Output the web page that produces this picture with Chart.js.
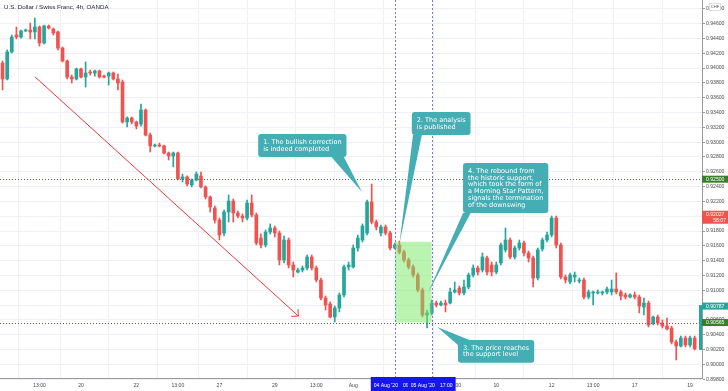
<!DOCTYPE html>
<html><head><meta charset="utf-8">
<script src="https://cdn.jsdelivr.net/npm/chart.js@4"></script>
<style>html,body{margin:0;padding:0;background:#fff;overflow:hidden}canvas{display:block}</style>
</head><body>
<canvas id="c" width="728" height="391"></canvas>
<script>
// ---- data (USD/CHF 4h candles) ----
const opens = [
0.94068,0.93853,0.94217,0.94446,0.94419,0.94500,0.94514,0.94487,0.94554,0.94338,
0.94567,0.94527,0.94487,0.94270,0.94095,0.93879,0.93853,0.93988,0.93879,0.93947,
0.93933,0.93960,0.93892,0.93892,0.93933,0.93853,0.93812,0.93272,0.93326,0.93272,
0.93245,0.93434,0.93096,0.92948,0.92961,0.92948,0.92853,0.92813,0.92853,0.92503,
0.92530,0.92422,0.92489,0.92544,0.92395,0.92260,0.92111,0.91949,0.91773,0.92057,
0.92205,0.92043,0.92003,0.91976,0.92178,0.92017,0.91706,0.91612,0.91787,0.91841,
0.91773,0.91409,0.91679,0.91342,0.91247,0.91274,0.91301,0.91450,0.91301,0.91139,
0.90896,0.90816,0.90640,0.90761,0.90937,0.91315,0.91315,0.91571,0.91679,0.91773,
0.92192,0.91922,0.91773,0.91855,0.91773,0.91571,0.91612,0.91517,0.91409,0.91315,
0.91207,0.91004,0.90667,0.90694,0.90829,0.90802,0.90829,0.90829,0.90978,0.91031,
0.90964,0.91045,0.91207,0.91301,0.91274,0.91436,0.91342,0.91247,0.91369,0.91544,
0.91679,0.91450,0.91571,0.91639,0.91504,0.91436,0.91166,0.91558,0.91679,0.91747,
0.91976,0.91612,0.91180,0.91113,0.91180,0.91125,0.91139,0.90910,0.90964,0.90964,
0.90964,0.90978,0.90978,0.91018,0.90978,0.90937,0.90910,0.90937,0.90910,0.90775,
0.90829,0.90559,0.90640,0.90559,0.90518,0.90491,0.90303,0.90248,0.90356,0.90262,
0.90356];
const highs = [
0.94095,0.94244,0.94446,0.94554,0.94514,0.94527,0.94608,0.94675,0.94567,0.94581,
0.94581,0.94540,0.94500,0.94284,0.94109,0.93906,0.94001,0.94001,0.94082,0.93974,
0.93974,0.93974,0.93906,0.93947,0.93947,0.93920,0.93839,0.93340,0.93340,0.93285,
0.93515,0.93448,0.93123,0.92975,0.92988,0.92961,0.92867,0.92867,0.92867,0.92570,
0.92544,0.92503,0.92597,0.92597,0.92409,0.92274,0.92138,0.91976,0.92084,0.92287,
0.92233,0.92070,0.92031,0.92219,0.92287,0.92043,0.91761,0.91814,0.91896,0.91868,
0.91800,0.91733,0.91706,0.91382,0.91301,0.91328,0.91477,0.91477,0.91328,0.91166,
0.90923,0.90843,0.90788,0.90964,0.91342,0.91382,0.91612,0.91747,0.91896,0.92219,
0.92435,0.91949,0.91882,0.91882,0.91800,0.91639,0.91665,0.91544,0.91436,0.91342,
0.91234,0.91031,0.90734,0.90869,0.90855,0.90855,0.90869,0.91031,0.91113,0.91058,
0.91139,0.91234,0.91342,0.91328,0.91504,0.91463,0.91382,0.91382,0.91639,0.91841,
0.91706,0.91598,0.91679,0.91665,0.91530,0.91463,0.91571,0.91706,0.91787,0.92003,
0.92003,0.91639,0.91207,0.91234,0.91247,0.91166,0.91166,0.91004,0.90990,0.91004,
0.90990,0.91045,0.91139,0.91234,0.91004,0.90964,0.90951,0.90978,0.90937,0.90896,
0.90855,0.90653,0.90667,0.90599,0.90626,0.90518,0.90329,0.90383,0.90383,0.90383,
0.90383];
const lows = [
0.93704,0.93839,0.94203,0.94393,0.94405,0.94493,0.94393,0.94393,0.94297,0.94325,
0.94527,0.94446,0.94244,0.94082,0.93853,0.93798,0.93839,0.93866,0.93744,0.93906,
0.93892,0.93866,0.93866,0.93771,0.93839,0.93704,0.93258,0.93205,0.93245,0.93178,
0.93217,0.93083,0.92867,0.92935,0.92935,0.92840,0.92759,0.92665,0.92489,0.92462,
0.92409,0.92395,0.92476,0.92382,0.92233,0.92057,0.91908,0.91679,0.91733,0.91922,
0.91922,0.91976,0.91922,0.91949,0.91990,0.91612,0.91571,0.91585,0.91761,0.91720,
0.91342,0.91369,0.91301,0.91180,0.91234,0.91247,0.91274,0.91274,0.91113,0.90869,
0.90734,0.90626,0.90573,0.90708,0.90910,0.91274,0.91301,0.91530,0.91652,0.91747,
0.91896,0.91814,0.91733,0.91747,0.91544,0.91558,0.91491,0.91382,0.91288,0.91180,
0.90978,0.90640,0.90491,0.90667,0.90775,0.90788,0.90708,0.90816,0.90964,0.90937,
0.90937,0.91018,0.91180,0.91207,0.91247,0.91207,0.91193,0.91221,0.91342,0.91517,
0.91423,0.91423,0.91544,0.91463,0.91382,0.91045,0.91139,0.91530,0.91652,0.91720,
0.91571,0.91153,0.91099,0.91086,0.91113,0.91099,0.90883,0.90883,0.90802,0.90951,
0.90937,0.90951,0.90937,0.90951,0.90869,0.90883,0.90896,0.90883,0.90694,0.90667,
0.90505,0.90532,0.90532,0.90491,0.90464,0.90276,0.90060,0.90235,0.90235,0.90235,
0.90195];
const closes = [
0.93853,0.94217,0.94419,0.94419,0.94500,0.94514,0.94487,0.94554,0.94338,0.94567,
0.94540,0.94473,0.94270,0.94095,0.93879,0.93853,0.93988,0.93879,0.93933,0.93933,
0.93960,0.93879,0.93879,0.93933,0.93853,0.93798,0.93272,0.93326,0.93272,0.93217,
0.93434,0.93096,0.92948,0.92961,0.92948,0.92853,0.92813,0.92853,0.92503,0.92530,
0.92435,0.92489,0.92570,0.92395,0.92260,0.92125,0.91949,0.91747,0.92057,0.92205,
0.92043,0.92003,0.91976,0.92178,0.92017,0.91639,0.91612,0.91787,0.91841,0.91773,
0.91409,0.91679,0.91342,0.91274,0.91274,0.91301,0.91450,0.91301,0.91139,0.90896,
0.90802,0.90640,0.90761,0.90937,0.91315,0.91342,0.91571,0.91706,0.91868,0.92192,
0.91922,0.91855,0.91855,0.91773,0.91571,0.91612,0.91517,0.91409,0.91315,0.91207,
0.91004,0.90667,0.90694,0.90829,0.90802,0.90829,0.90802,0.90978,0.91004,0.90964,
0.91045,0.91207,0.91301,0.91247,0.91450,0.91247,0.91247,0.91342,0.91612,0.91679,
0.91450,0.91571,0.91639,0.91504,0.91436,0.91166,0.91544,0.91679,0.91747,0.91976,
0.91612,0.91180,0.91139,0.91207,0.91207,0.91139,0.90910,0.90978,0.90978,0.90978,
0.90978,0.91018,0.91018,0.90978,0.90923,0.90910,0.90937,0.90910,0.90788,0.90829,
0.90532,0.90640,0.90559,0.90518,0.90478,0.90303,0.90248,0.90356,0.90262,0.90356,
0.90209];

// time-axis tick labels (candle index -> text)
const tickIdx  = [8, 17, 29, 38, 47, 59, 68, 76, 89, 98, 107, 119, 128, 137, 149];
const tickText = ['13:00','20','22','13:00','27','29','13:00','Aug','5','13:00','10','12','13:00','17','19'];
// price-axis ticks
const yTicks = [0.898,0.900,0.902,0.904,0.906,0.908,0.910,0.912,0.914,0.916,0.918,0.920,0.922,
                0.924,0.926,0.928,0.930,0.932,0.934,0.936,0.938,0.940,0.942,0.944,0.946,0.948];
// horizontal support/resistance levels
const levels = [0.92500, 0.90565];
// highlighted zone (candle index range and price range)
const zoneIdx = [85, 93];
const zonePrice = [0.90565, 0.91656];
// crosshair date labels
const markIdx = [85, 93];
const markDate = ["04 Aug '20", "05 Aug '20"];
const markTime = ["09:00", "17:00"];
// price labels on the axis
const lastPrice = 0.92027, countdown = '58:07';
const rangeTop = 0.90787;
// drawn trend arrow (index, price)
const arrowFrom = [7.0, 0.93883], arrowTo = [64.1, 0.90653];
// callouts
const notes = [
 {lines:['1. The bullish correction','is indeed completed'], at:[55.4, 0.93110], tip:[77.9, 0.92327], base:[[0.83,1],[0.97,1]]},
 {lines:['2. The analysis','is published'], at:[88.7, 0.93407], tip:[86.0, 0.91625], base:[[0.02,1],[0.17,1]]},
 {lines:['3. The price reaches','the support level'], at:[98.7, 0.90330], tip:[94.2, 0.90505], base:[[0,0.22],[0.15,0]]},
 {lines:['4. The rebound from','the historic support,','which took the form of','a Morning Star Pattern,','signals the termination','of the downswing'], at:[99.8, 0.92718], tip:[92.2, 0.90964], base:[[0,1],[0.09,1]]}
];
const title = 'U.S. Dollar / Swiss Franc, 4h, OANDA';

// ---- chart ----
const GREEN = '#26a69a', RED = '#ef5350', TEAL = '#45adb4';
const idx = opens.map((_, i) => i);
const col = idx.map(i => closes[i] >= opens[i] ? GREEN : RED);
const tickMap = {}; tickIdx.forEach((v, k) => tickMap[v] = tickText[k]);
const FONT = '"Liberation Sans", Arial, sans-serif';
const NOTEFONT = '"DejaVu Sans", Verdana, sans-serif';

function rr(ctx, x, y, w, h, r) {
  ctx.beginPath();
  ctx.moveTo(x + r, y); ctx.lineTo(x + w - r, y); ctx.quadraticCurveTo(x + w, y, x + w, y + r);
  ctx.lineTo(x + w, y + h - r); ctx.quadraticCurveTo(x + w, y + h, x + w - r, y + h);
  ctx.lineTo(x + r, y + h); ctx.quadraticCurveTo(x, y + h, x, y + h - r);
  ctx.lineTo(x, y + r); ctx.quadraticCurveTo(x, y, x + r, y); ctx.closePath();
}

const overlay = {
  id: 'overlay',
  afterDatasetsDraw(chart) {
    const {ctx, scales: {x, y}} = chart;
    ctx.save();
    const zx1 = x.getPixelForValue(zoneIdx[0]), zx2 = x.getPixelForValue(zoneIdx[1]);
    const zy1 = y.getPixelForValue(zonePrice[1]), zy2 = y.getPixelForValue(zonePrice[0]);
    ctx.fillStyle = 'rgba(120,232,100,0.5)';
    ctx.fillRect(zx1, zy1, zx2 - zx1, zy2 - zy1);
    ctx.restore();
  },
  afterDraw(chart) {
    const {ctx, chartArea: a, scales: {x, y}} = chart;
    ctx.save();
    // dotted horizontal levels
    ctx.strokeStyle = '#5d6a52'; ctx.lineWidth = 1; ctx.setLineDash([1, 2]);
    levels.forEach(v => {
      const py = Math.round(y.getPixelForValue(v)) + 0.5;
      ctx.beginPath(); ctx.moveTo(a.left, py); ctx.lineTo(a.right, py); ctx.stroke();
    });
    // dashed verticals
    ctx.strokeStyle = '#7a7ad6'; ctx.setLineDash([2, 2]);
    markIdx.forEach(v => {
      const px = Math.round(x.getPixelForValue(v)) + 0.5;
      ctx.beginPath(); ctx.moveTo(px, a.top); ctx.lineTo(px, a.bottom); ctx.stroke();
    });
    ctx.setLineDash([]);
    // red trend arrow
    const ax1 = x.getPixelForValue(arrowFrom[0]), ay1 = y.getPixelForValue(arrowFrom[1]);
    const ax2 = x.getPixelForValue(arrowTo[0]), ay2 = y.getPixelForValue(arrowTo[1]);
    ctx.strokeStyle = '#e8393b'; ctx.lineWidth = 1;
    ctx.beginPath(); ctx.moveTo(ax1, ay1); ctx.lineTo(ax2, ay2); ctx.stroke();
    const ang = Math.atan2(ay2 - ay1, ax2 - ax1) + Math.PI;
    ctx.beginPath();
    ctx.moveTo(ax2 + 7 * Math.cos(ang - Math.PI / 4), ay2 + 7 * Math.sin(ang - Math.PI / 4));
    ctx.lineTo(ax2, ay2);
    ctx.lineTo(ax2 + 7 * Math.cos(ang + Math.PI / 4), ay2 + 7 * Math.sin(ang + Math.PI / 4));
    ctx.stroke();
    // callouts
    ctx.font = '6.5px ' + NOTEFONT;
    ctx.textBaseline = 'middle'; ctx.textAlign = 'left';
    notes.forEach(n => {
      const bx = x.getPixelForValue(n.at[0]), by = y.getPixelForValue(n.at[1]);
      const w = Math.max(...n.lines.map(l => ctx.measureText(l).width)) + 10;
      const h = n.lines.length * 6.75 + 9.4;
      const tx = x.getPixelForValue(n.tip[0]), ty = y.getPixelForValue(n.tip[1]);
      ctx.fillStyle = TEAL;
      ctx.beginPath();
      ctx.moveTo(bx + n.base[0][0] * w, by + n.base[0][1] * h);
      ctx.lineTo(tx, ty);
      ctx.lineTo(bx + n.base[1][0] * w, by + n.base[1][1] * h);
      ctx.closePath(); ctx.fill();
      rr(ctx, bx, by, w, h, 3); ctx.fill();
      ctx.fillStyle = '#ffffff';
      n.lines.forEach((l, k) => ctx.fillText(l, bx + 5, by + 4.7 + 3.4 + k * 6.75));
    });
    // title
    ctx.font = '6.2px ' + FONT; ctx.fillStyle = '#1e222d';
    ctx.fillText(title, 4, 7);
    // price-axis labels
    const R = a.right, W = chart.width - a.right;
    ctx.font = '5.1px ' + FONT;
    function plabel(v, bg, txt, h) {
      const py = y.getPixelForValue(v);
      ctx.fillStyle = bg; ctx.fillRect(R, py - h / 2, W, h);
      ctx.fillStyle = '#fff'; ctx.textAlign = 'left'; ctx.fillText(txt, R + 4, py);
    }
    const rt = y.getPixelForValue(rangeTop), rb = y.getPixelForValue(closes[closes.length - 1]);
    ctx.fillStyle = GREEN; ctx.fillRect(R - 3, rt - 1, 3, rb - rt + 2);
    plabel(rangeTop, GREEN, rangeTop.toFixed(5), 7);
    levels.forEach(v => plabel(v, '#3b7d2c', v.toFixed(5), 7));
    const lp = y.getPixelForValue(lastPrice);
    ctx.fillStyle = RED; ctx.fillRect(R, lp - 3.5, W, 13);
    ctx.fillStyle = '#fff';
    ctx.fillText(lastPrice.toFixed(5), R + 4, lp);
    ctx.textAlign = 'right'; ctx.fillText(countdown, chart.width - 2, lp + 6.5);
    // CHF badge
    ctx.textAlign = 'center';
    ctx.fillStyle = '#fff'; ctx.strokeStyle = '#c8c8c8'; ctx.lineWidth = 0.6;
    ctx.fillRect(709.5, 3.5, 11, 7); ctx.strokeRect(709.5, 3.5, 11, 7);
    ctx.font = '4.2px ' + FONT; ctx.fillStyle = '#555'; ctx.fillText('CHF', 715, 7);
    // crosshair date labels on time axis
    ctx.font = '5.1px ' + FONT; ctx.textAlign = 'left';
    markIdx.forEach((v, k) => {
      const px = x.getPixelForValue(v);
      const w1 = ctx.measureText(markDate[k]).width, w2 = ctx.measureText(markTime[k]).width;
      const w = w1 + w2 + 11;
      ctx.fillStyle = '#1616f0';
      ctx.fillRect(px - w / 2, a.bottom - 1, w, chart.height - a.bottom + 1);
      ctx.fillStyle = '#fff';
      ctx.fillText(markDate[k], px - w / 2 + 3, a.bottom + 7.5);
      ctx.fillText(markTime[k], px - w / 2 + 8 + w1, a.bottom + 7.5);
    });
    ctx.restore();
  }
};

new Chart(document.getElementById('c'), {
  type: 'bar',
  data: {
    datasets: [
      {data: idx.map(i => ({x: i, y: [lows[i], highs[i]]})), backgroundColor: col, barThickness: 1, grouped: false, order: 2},
      {data: idx.map(i => ({x: i, y: [opens[i], closes[i]]})), backgroundColor: col, barThickness: 3, grouped: false, minBarLength: 1, order: 1}
    ]
  },
  options: {
    responsive: false, animation: false, devicePixelRatio: 1,
    layout: {padding: 0},
    plugins: {legend: {display: false}, tooltip: {enabled: false}},
    scales: {
      x: {
        type: 'linear', min: -0.555, max: 151.59, offset: false,
        grid: {color: '#eef0f5', tickLength: 2, tickColor: '#999'},
        border: {color: '#9a9a9a'},
        ticks: {autoSkip: false, maxRotation: 0, padding: 3, color: '#4a4a4a', font: {size: 5.1, family: FONT},
                callback: v => tickMap[v] ?? ''},
        afterBuildTicks: s => { s.ticks = tickIdx.map(v => ({value: v})); },
        afterFit: s => { s.height = 13; s.paddingLeft = 0; s.paddingRight = 0; }
      },
      y: {
        position: 'right', min: 0.898166, max: 0.949185,
        grid: {color: '#eef0f5', tickLength: 3, tickColor: '#999'},
        border: {color: '#9a9a9a'},
        ticks: {padding: 1, color: '#4a4a4a', font: {size: 5.1, family: FONT}, callback: v => v.toFixed(5)},
        afterBuildTicks: s => { s.ticks = yTicks.map(v => ({value: v})); },
        afterFit: s => { s.width = 26; s.paddingTop = 0; s.paddingBottom = 0; }
      }
    }
  },
  plugins: [overlay]
});
</script>
</body></html>
